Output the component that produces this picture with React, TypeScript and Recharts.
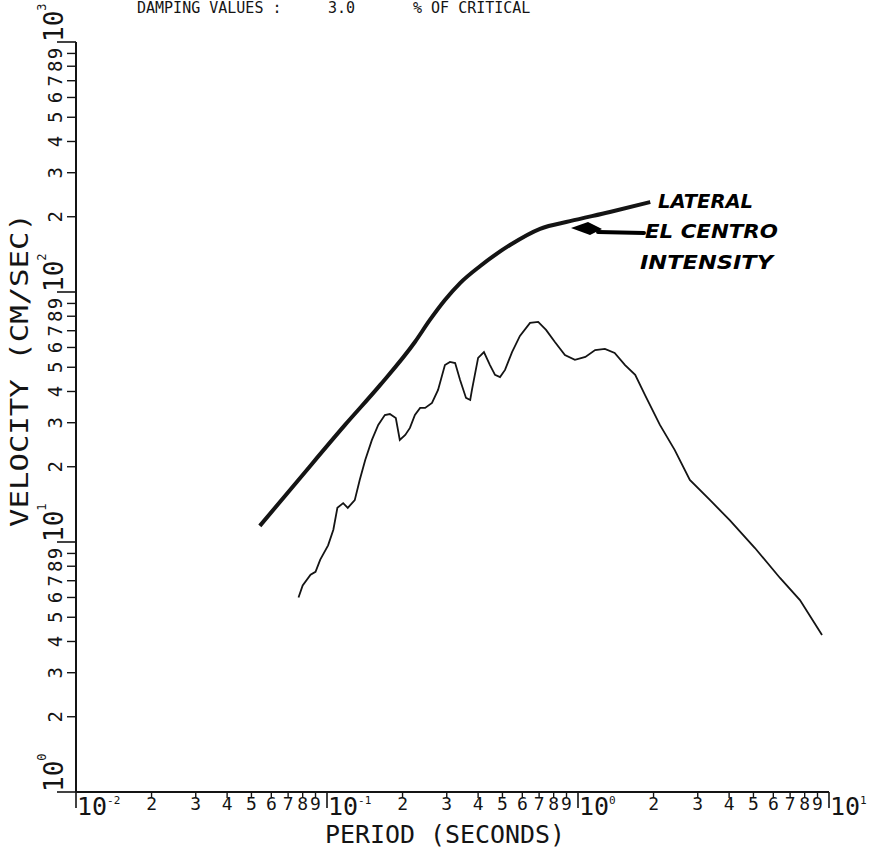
import { LineChart, Line, XAxis, YAxis } from 'recharts';

// envelope (thick curve)
const envelopePeriod = [0.054, 0.078, 0.118, 0.163, 0.224, 0.257, 0.295, 0.339, 0.408, 0.536, 0.706, 0.929, 1.34, 1.94];
const envelopeVelocity = [11.6, 18.0, 29.4, 42.5, 63.1, 77.3, 92.9, 108.6, 127.1, 154.2, 179, 192, 209, 229];

// response spectrum (thin curve)
const spectrumPeriod = [
  0.077, 0.080, 0.086, 0.090, 0.094, 0.101, 0.106, 0.110, 0.116, 0.121, 0.129, 0.135, 0.142, 0.151,
  0.160, 0.170, 0.178, 0.188, 0.195, 0.205, 0.214, 0.224, 0.235, 0.246, 0.262, 0.277, 0.295, 0.309,
  0.324, 0.339, 0.358, 0.372, 0.378, 0.400, 0.422, 0.446, 0.467, 0.489, 0.512, 0.546, 0.587, 0.644,
  0.694, 0.746, 0.809, 0.887, 0.972, 1.07, 1.17, 1.28, 1.40, 1.54, 1.69, 1.85, 2.12, 2.43, 2.79,
  3.36, 4.03, 5.07, 6.38, 7.66, 9.38,
];
const spectrumVelocity = [
  6.0, 6.7, 7.4, 7.6, 8.5, 9.7, 11.2, 13.7, 14.3, 13.7, 14.7, 17.7, 21.3, 25.6,
  29.4, 32.2, 32.5, 31.3, 25.6, 26.8, 28.6, 32.2, 34.4, 34.4, 36.0, 40.6, 51.0, 52.5,
  52.0, 44.5, 37.7, 37.0, 40.6, 54.5, 57.5, 51.0, 46.6, 45.7, 48.8, 57.5, 66.7, 75.2,
  75.9, 70.5, 63.1, 56.0, 53.5, 55.0, 58.6, 59.2, 57.0, 51.0, 46.6, 38.7, 29.4, 23.3, 17.7,
  14.7, 12.2, 9.46, 7.18, 5.86, 4.25,
];

const periodTicks = [
  0.01, 0.02, 0.03, 0.04, 0.05, 0.06, 0.07, 0.08, 0.09,
  0.1, 0.2, 0.3, 0.4, 0.5, 0.6, 0.7, 0.8, 0.9,
  1, 2, 3, 4, 5, 6, 7, 8, 9, 10,
];
const velocityTicks = [
  1, 2, 3, 4, 5, 6, 7, 8, 9,
  10, 20, 30, 40, 50, 60, 70, 80, 90,
  100, 200, 300, 400, 500, 600, 700, 800, 900, 1000,
];

const envelopeData = envelopePeriod.map((t, i) => ({ t, v: envelopeVelocity[i] }));
const spectrumData = spectrumPeriod.map((t, i) => ({ t, v: spectrumVelocity[i] }));

const INK = '#141414';
const MONO = '"DejaVu Sans Mono", "Liberation Mono", monospace';

function splitTick(v: number) {
  const e = Math.floor(Math.log10(v) + 1e-9);
  const m = Math.round(v / Math.pow(10, e));
  return { e, m };
}

function PeriodTick(props: any) {
  const { x, y, payload } = props;
  const { e, m } = splitTick(payload.value);
  if (m === 1) {
    return (
      <g>
        <line x1={x} y1={y} x2={x} y2={y + 16} stroke={INK} strokeWidth={1.6} />
        <text x={x + 1} y={y + 23} fontFamily={MONO} fontSize={25} fill={INK}>
          10<tspan dy={-11} fontSize={11}>{e}</tspan>
        </text>
      </g>
    );
  }
  return (
    <g>
      <line x1={x} y1={y} x2={x} y2={y + 6} stroke={INK} strokeWidth={1.4} />
      <text x={x} y={y + 18} textAnchor="middle" fontFamily={MONO} fontSize={18} fill={INK}>
        {m}
      </text>
    </g>
  );
}

function VelocityTick(props: any) {
  const { x, y, payload } = props;
  const { e, m } = splitTick(payload.value);
  if (m === 1) {
    const bx = x - 13;
    return (
      <g>
        <line x1={x} y1={y} x2={x - 19} y2={y} stroke={INK} strokeWidth={1.6} />
        <text x={bx} y={y} transform={`rotate(-90, ${bx}, ${y})`} fontFamily={MONO} fontSize={26} fill={INK}>
          10<tspan dy={-17} fontSize={12}>{e}</tspan>
        </text>
      </g>
    );
  }
  const bx = x - 14;
  return (
    <g>
      <line x1={x} y1={y} x2={x - 9} y2={y} stroke={INK} strokeWidth={1.4} />
      <text
        x={bx}
        y={y}
        transform={`rotate(-90, ${bx}, ${y})`}
        textAnchor="middle"
        fontFamily={MONO}
        fontSize={19}
        fill={INK}
      >
        {m}
      </text>
    </g>
  );
}

export default function App() {
  return (
    <div style={{ position: 'absolute', left: 0, top: 0, width: 871, height: 861, background: '#fff' }}>
      <LineChart width={871} height={861} margin={{ top: 42, right: 42, bottom: 0, left: 0 }}>
        <XAxis
          dataKey="t"
          type="number"
          scale="log"
          domain={[0.01, 10]}
          ticks={periodTicks}
          interval={0}
          tickLine={false}
          tickSize={0}
          tickMargin={0}
          height={69}
          axisLine={{ stroke: INK, strokeWidth: 2 }}
          tick={<PeriodTick />}
          allowDataOverflow
        />
        <YAxis
          dataKey="v"
          type="number"
          scale="log"
          domain={[1, 1000]}
          ticks={velocityTicks}
          interval={0}
          tickLine={false}
          tickSize={0}
          tickMargin={0}
          width={76}
          axisLine={{ stroke: INK, strokeWidth: 2 }}
          tick={<VelocityTick />}
          allowDataOverflow
        />
        <Line
          data={envelopeData}
          dataKey="v"
          type="monotone"
          stroke={INK}
          strokeWidth={4}
          dot={false}
          isAnimationActive={false}
        />
        <Line
          data={spectrumData}
          dataKey="v"
          type="linear"
          stroke={INK}
          strokeWidth={1.8}
          dot={false}
          isAnimationActive={false}
        />
      </LineChart>
      <svg
        width={871}
        height={861}
        style={{ position: 'absolute', left: 0, top: 0, pointerEvents: 'none' }}
      >
        <g fontFamily={MONO} fontSize={15} fill={INK}>
          <text x={137} y={13}>DAMPING VALUES :</text>
          <text x={328} y={13}>3.0</text>
          <text x={413} y={13}>% OF CRITICAL</text>
        </g>
        <text x={325} y={843} fontFamily={MONO} fontSize={24} fill={INK} textLength={240} lengthAdjust="spacingAndGlyphs">
          PERIOD (SECONDS)
        </text>
        <text
          x={28}
          y={527}
          transform="rotate(-90, 28, 527)"
          fontFamily={MONO}
          fontSize={24}
          fill={INK}
          textLength={314}
          lengthAdjust="spacingAndGlyphs"
        >
          VELOCITY (CM/SEC)
        </text>
        {/* handwritten note */}
        <g fontFamily='"DejaVu Sans", sans-serif' fontWeight="bold" fontStyle="italic" fontSize={19} fill="#000">
          <text x={658} y={208} textLength={95} lengthAdjust="spacingAndGlyphs">LATERAL</text>
          <text x={645} y={238} textLength={133} lengthAdjust="spacingAndGlyphs">EL CENTRO</text>
          <text x={640} y={269} textLength={133} lengthAdjust="spacingAndGlyphs">INTENSITY</text>
        </g>
        <path d="M 644 233 L 598 232" stroke="#000" strokeWidth={4} fill="none" strokeLinecap="round" />
        <path d="M 571 228 L 588 222 L 602 229 L 590 235 Z" fill="#000" />
      </svg>
    </div>
  );
}
